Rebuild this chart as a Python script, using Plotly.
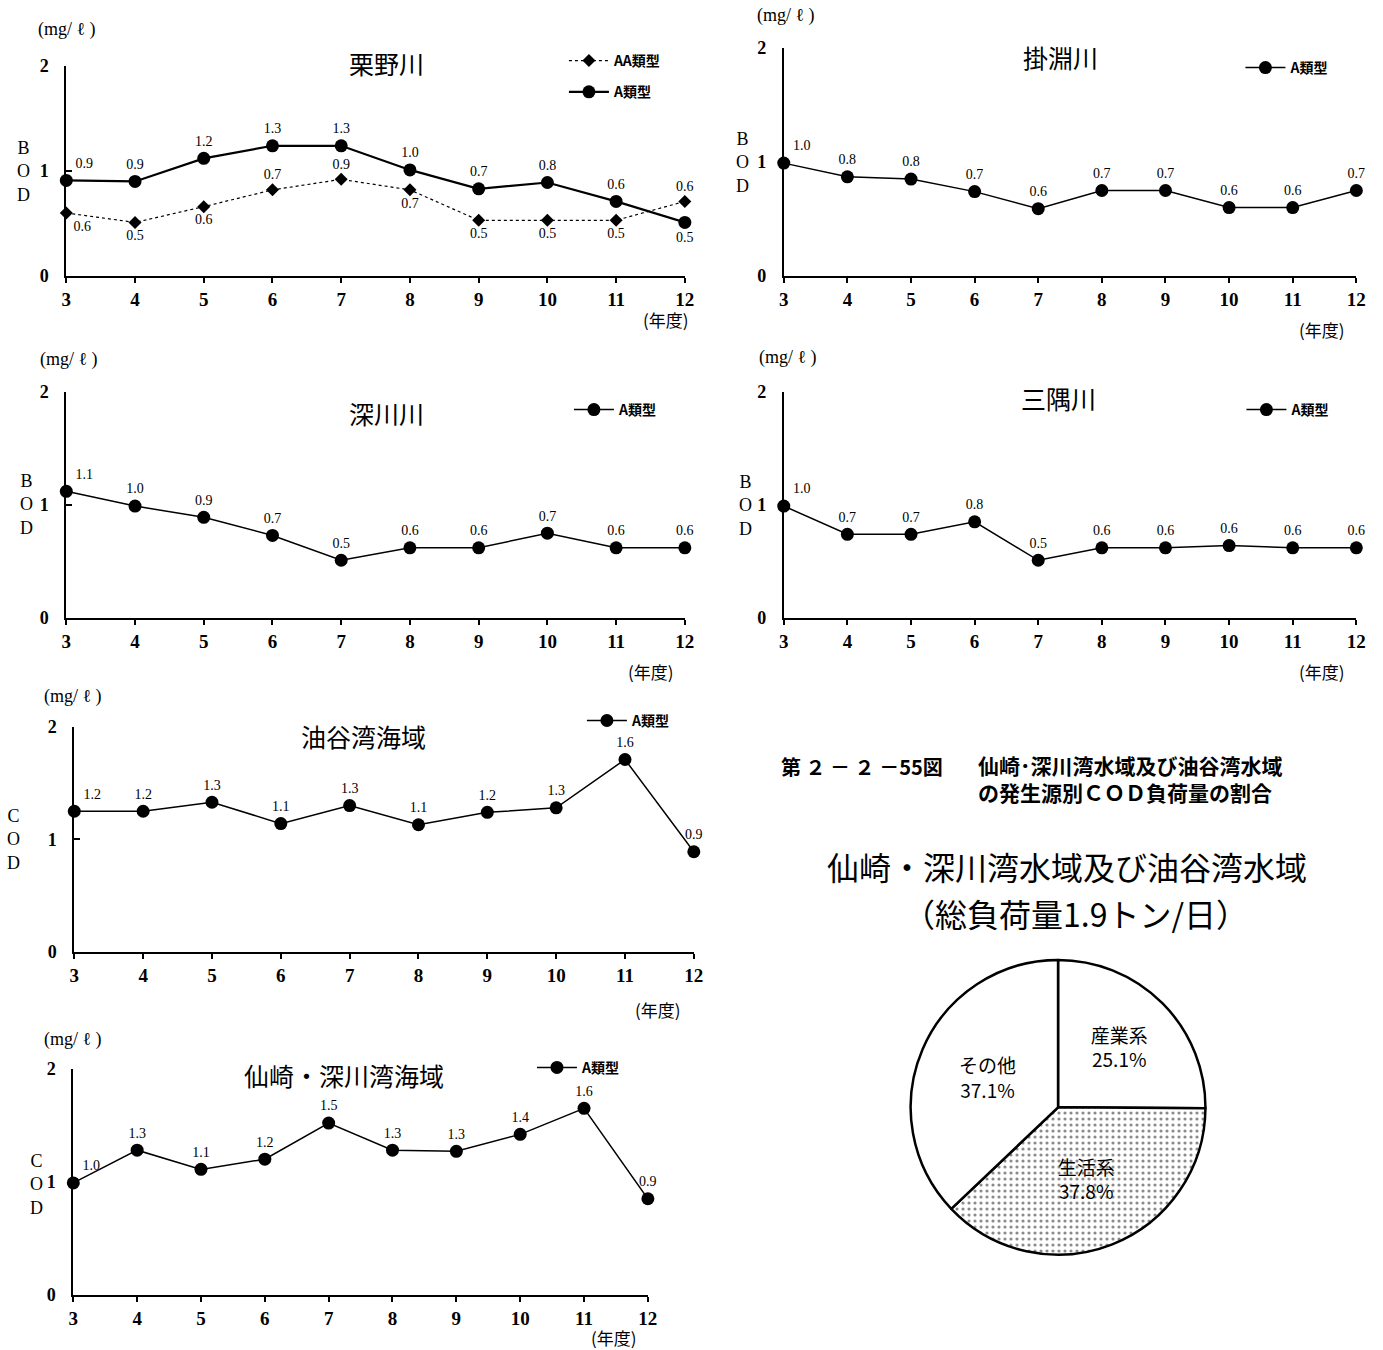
import plotly.graph_objects as go

W, H = 1383, 1350

# ---------------- data ----------------
years = [3, 4, 5, 6, 7, 8, 9, 10, 11, 12]
year_ticks = ["3", "4", "5", "6", "7", "8", "9", "10", "11", "12"]

# 栗野川 (BOD)
kurino_aa = [0.60, 0.51, 0.66, 0.82, 0.92, 0.82, 0.53, 0.53, 0.53, 0.71]
kurino_aa_text = ["0.6", "0.5", "0.6", "0.7", "0.9", "0.7", "0.5", "0.5", "0.5", "0.6"]
kurino_a = [0.91, 0.90, 1.12, 1.24, 1.24, 1.01, 0.83, 0.89, 0.71, 0.51]
kurino_a_text = ["0.9", "0.9", "1.2", "1.3", "1.3", "1.0", "0.7", "0.8", "0.6", "0.5"]

# 掛淵川 (BOD)
kakebuchi_a = [0.99, 0.87, 0.85, 0.74, 0.59, 0.75, 0.75, 0.60, 0.60, 0.75]
kakebuchi_text = ["1.0", "0.8", "0.8", "0.7", "0.6", "0.7", "0.7", "0.6", "0.6", "0.7"]

# 深川川 (BOD)
fukawa_a = [1.12, 0.99, 0.89, 0.73, 0.51, 0.62, 0.62, 0.75, 0.62, 0.62]
fukawa_text = ["1.1", "1.0", "0.9", "0.7", "0.5", "0.6", "0.6", "0.7", "0.6", "0.6"]

# 三隅川 (BOD)
misumi_a = [0.99, 0.74, 0.74, 0.85, 0.51, 0.62, 0.62, 0.64, 0.62, 0.62]
misumi_text = ["1.0", "0.7", "0.7", "0.8", "0.5", "0.6", "0.6", "0.6", "0.6", "0.6"]

# 油谷湾海域 (COD)
yuya_cod = [1.25, 1.25, 1.33, 1.14, 1.30, 1.13, 1.24, 1.28, 1.71, 0.89]
yuya_text = ["1.2", "1.2", "1.3", "1.1", "1.3", "1.1", "1.2", "1.3", "1.6", "0.9"]

# 仙崎・深川湾海域 (COD)
senzaki_cod = [0.99, 1.28, 1.11, 1.20, 1.52, 1.28, 1.27, 1.42, 1.65, 0.85]
senzaki_text = ["1.0", "1.3", "1.1", "1.2", "1.5", "1.3", "1.3", "1.4", "1.6", "0.9"]

# COD load by source (pie)
pie_labels = ["産業系", "生活系", "その他"]
pie_values = [25.1, 37.8, 37.1]

# ---------------- helpers ----------------
# small calibration of the photographed page (offset + scale observed)
OX, SX = 3.65, 0.9899
OY, SY = 10.0, 0.98535

def px(x):
    return ((x - OX) / SX) / W

def py(y):
    return 1 - ((y - OY) / SY) / H

SERIF = "Liberation Serif, DejaVu Serif, serif"
GOTHIC = "Noto Sans CJK JP, Noto Sans, sans-serif"

fig = go.Figure()
annotations = []

panels = [
    dict(n=1, x0=65, x1=684, ytop=66, ybot=276, title="栗野川", t=(385, 63),
         ylab="B<br>O<br>D", yl=(22, 172), unit=(66, 30), nendo=(665, 320),
         leg=(563, 45, "top")),
    dict(n=2, x0=783, x1=1356, ytop=48, ybot=276, title="掛淵川", t=(1060, 57),
         ylab="B<br>O<br>D", yl=(742, 163), unit=(785, 16), nendo=(1322, 330),
         leg=(1240, 68, "middle")),
    dict(n=3, x0=65, x1=684, ytop=392, ybot=618, title="深川川", t=(385, 413),
         ylab="B<br>O<br>D", yl=(25, 505), unit=(68, 360), nendo=(650, 672),
         leg=(568, 410, "middle")),
    dict(n=4, x0=783, x1=1356, ytop=392, ybot=618, title="三隅川", t=(1058, 398),
         ylab="B<br>O<br>D", yl=(745, 506), unit=(787, 358), nendo=(1322, 672),
         leg=(1241, 410, "middle")),
    dict(n=5, x0=73, x1=693, ytop=727, ybot=952, title="油谷湾海域", t=(362, 736),
         ylab="C<br>O<br>D", yl=(12, 840), unit=(72, 697), nendo=(657, 1010),
         leg=(581, 721, "middle")),
    dict(n=6, x0=72, x1=647, ytop=1069, ybot=1295, title="仙崎・深川湾海域", t=(343, 1075),
         ylab="C<br>O<br>D", yl=(35, 1185), unit=(72, 1040), nendo=(613, 1338),
         leg=(531, 1068, "middle")),
]

series = [
    (1, "AA類型", kurino_aa, kurino_aa_text, "diamond", 10, "dot", 1.2,
     ["bottom right", "bottom center", "bottom center", "top center", "top center",
      "bottom center", "bottom center", "bottom center", "bottom center", "top center"]),
    (1, "A類型", kurino_a, kurino_a_text, "circle", 13, "solid", 2.2,
     ["top right"] + ["top center"] * 8 + ["bottom center"]),
    (2, "A類型", kakebuchi_a, kakebuchi_text, "circle", 13, "solid", 1.5,
     ["top right"] + ["top center"] * 9),
    (3, "A類型", fukawa_a, fukawa_text, "circle", 13, "solid", 1.5,
     ["top right"] + ["top center"] * 9),
    (4, "A類型", misumi_a, misumi_text, "circle", 13, "solid", 1.5,
     ["top right"] + ["top center"] * 9),
    (5, "A類型", yuya_cod, yuya_text, "circle", 13, "solid", 1.5,
     ["top right"] + ["top center"] * 9),
    (6, "A類型", senzaki_cod, senzaki_text, "circle", 13, "solid", 1.5,
     ["top right"] + ["top center"] * 9),
]

layout_axes = {}
for p in panels:
    n = p["n"]
    sx = "" if n == 1 else str(n)
    layout_axes["xaxis" + sx] = dict(
        domain=[px(p["x0"]), px(p["x1"])], range=[3, 12], anchor="y" + sx,
        tickvals=years, ticktext=year_ticks, showgrid=False, zeroline=False,
        showline=True, linecolor="black", linewidth=2, ticks="outside",
        ticklen=5, tickwidth=1.5, tickcolor="black",
        tickfont=dict(family=SERIF, size=19, color="black", weight="bold"),
        fixedrange=True)
    layout_axes["yaxis" + sx] = dict(
        domain=[py(p["ybot"]), py(p["ytop"])], range=[0, 2], anchor="x" + sx,
        tickvals=[0, 1, 2], ticktext=["0", "1", "2"], showgrid=False, zeroline=False,
        showline=True, linecolor="black", linewidth=2, ticks="inside",
        ticklen=6, tickwidth=1.5, tickcolor="black",
        tickfont=dict(family=SERIF, size=18, color="black", weight="bold"),
        ticklabelstandoff=12, fixedrange=True)
    # title
    annotations.append(dict(text=p["title"], x=px(p["t"][0]), y=py(p["t"][1]),
                            xanchor="center", yanchor="middle",
                            font=dict(family=GOTHIC, size=25, color="black")))
    # vertical axis label
    annotations.append(dict(text=p["ylab"], x=px(p["yl"][0]), y=py(p["yl"][1]),
                            xanchor="center", yanchor="middle",
                            font=dict(family=SERIF, size=18, color="black")))
    # unit
    annotations.append(dict(text="(mg/ ℓ )", x=px(p["unit"][0]), y=py(p["unit"][1]),
                            xanchor="center", yanchor="middle",
                            font=dict(family=SERIF, size=18, color="black")))
    # fiscal-year marker
    annotations.append(dict(text="(年度)", x=px(p["nendo"][0]), y=py(p["nendo"][1]),
                            xanchor="center", yanchor="middle",
                            font=dict(family=GOTHIC, size=17, color="black")))
    lg = "legend" if n == 1 else "legend" + str(n)
    layout_axes[lg] = dict(x=px(p["leg"][0]), y=py(p["leg"][1]), xanchor="left",
                           yanchor=p["leg"][2], bgcolor="rgba(0,0,0,0)",
                           font=dict(family=GOTHIC, size=14, color="black", weight="bold"),
                           tracegroupgap=10, itemwidth=40)

for (n, name, vals, texts, sym, msize, dash, lw, tpos) in series:
    sx = "" if n == 1 else str(n)
    lg = "legend" if n == 1 else "legend" + str(n)
    fig.add_trace(go.Scatter(
        x=years, y=vals, text=texts, mode="lines+markers+text", name=name,
        textposition=tpos, textfont=dict(family=SERIF, size=14, color="black"),
        line=dict(color="black", width=lw, dash=dash),
        marker=dict(symbol=sym, size=msize, color="black"),
        xaxis="x" + sx, yaxis="y" + sx, legend=lg, legendgroup=f"{n}-{name}",
        cliponaxis=False, showlegend=True))

# ---------------- pie ----------------
fig.add_trace(go.Pie(
    labels=pie_labels, values=pie_values, sort=False, direction="clockwise",
    rotation=0, showlegend=False,
    domain=dict(x=[px(910), px(1205)], y=[py(1255), py(960)]),
    texttemplate="%{label}<br>%{value:.1f}%", textposition="inside",
    insidetextorientation="horizontal",
    textfont=dict(family=GOTHIC, size=19, color="black"),
    marker=dict(colors=["white", "white", "white"],
                line=dict(color="black", width=2.5),
                pattern=dict(shape=["", ".", ""], fgcolor="#8a8a8a",
                             bgcolor="white", size=6, solidity=0.22)),
    hoverinfo="skip"))

# ---------------- right-side captions ----------------
annotations += [
    dict(text="<b>第 ２ － ２ －55図</b>", x=px(778), y=py(767), xanchor="left",
         yanchor="middle", font=dict(family=GOTHIC, size=20, color="black")),
    dict(text="<b>仙崎･深川湾水域及び油谷湾水域<br>の発生源別ＣＯＤ負荷量の割合</b>",
         x=px(975), y=py(779), xanchor="left", yanchor="middle", align="left",
         font=dict(family=GOTHIC, size=21, color="black")),
    dict(text="仙崎・深川湾水域及び油谷湾水域", x=px(1066), y=py(866), xanchor="center",
         yanchor="middle", font=dict(family=GOTHIC, size=32, color="black")),
    dict(text="（総負荷量1.9トン/日）", x=px(1075), y=py(913), xanchor="center",
         yanchor="middle", font=dict(family=GOTHIC, size=32, color="black")),
]
for a in annotations:
    a.setdefault("xref", "paper")
    a.setdefault("yref", "paper")
    a.setdefault("showarrow", False)

fig.update_layout(
    width=W, height=H, margin=dict(l=0, r=0, t=0, b=0),
    paper_bgcolor="white", plot_bgcolor="white",
    annotations=annotations, **layout_axes)

fig.write_html("out.html", config={"displayModeBar": False},
               post_script="document.body.style.margin='0';"
                           "document.body.style.overflow='hidden';")
